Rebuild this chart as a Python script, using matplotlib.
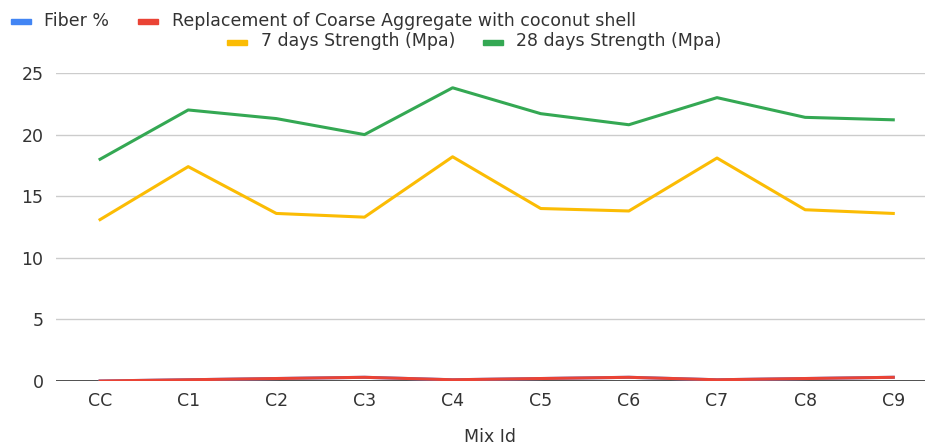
import matplotlib.pyplot as plt
from matplotlib.patches import Rectangle

plt.rcParams['font.family'] = ['DejaVu Sans']

mix_ids = ['CC', 'C1', 'C2', 'C3', 'C4', 'C5', 'C6', 'C7', 'C8', 'C9']
fiber_pct = [0, 0.1, 0.2, 0.3, 0.1, 0.2, 0.3, 0.1, 0.2, 0.3]
coconut_shell = [0, 0.1, 0.2, 0.3, 0.1, 0.2, 0.3, 0.1, 0.2, 0.3]
strength_7 = [13.1, 17.4, 13.6, 13.3, 18.2, 14.0, 13.8, 18.1, 13.9, 13.6]
strength_28 = [18.0, 22.0, 21.3, 20.0, 23.8, 21.7, 20.8, 23.0, 21.4, 21.2]

series = [
    ('Fiber %', fiber_pct, '#4285F4'),
    ('Replacement of Coarse Aggregate with coconut shell', coconut_shell, '#EA4335'),
    ('7 days Strength (Mpa)', strength_7, '#FBBC04'),
    ('28 days Strength (Mpa)', strength_28, '#34A853'),
]
txt = '#333333'

W, H = 925, 445
fig = plt.figure(figsize=(W / 100, H / 100), dpi=100)
ax = fig.add_axes([56 / W, 1 - 381 / H, 1 - 56 / W, (381 - 73) / H])

x = range(len(mix_ids))
for name, vals, col in series:
    ax.plot(x, vals, color=col, lw=2.2, zorder=3)

ax.set_xlim(-0.5, 9.36)
ax.set_ylim(0, 25)
ax.set_yticks([0, 5, 10, 15, 20, 25])
ax.set_xticks(list(x))
ax.set_xticklabels(mix_ids)
ax.grid(axis='y', color='#cccccc', lw=1)
ax.axhline(0, color='#333333', lw=1.2, zorder=2)
for s in ax.spines.values():
    s.set_visible(False)
ax.tick_params(length=0, labelsize=12.5, colors=txt)
ax.tick_params(axis='y', pad=9)
ax.tick_params(axis='x', pad=8)
ax.set_xlabel('Mix Id', fontsize=12.5, color=txt, labelpad=13)

# legend drawn by hand: two centred rows (swatch x, text x)
legend_rows = [
    [(0, 11, 44), (1, 138, 172)],
    [(2, 227, 261), (3, 483, 516)],
]
row_y = [21, 42]
for row, yy in zip(legend_rows, row_y):
    for idx, sx, tx in row:
        name, _, col = series[idx]
        fig.patches.append(Rectangle((sx / W, 1 - (yy + 2.5) / H), 20 / W, 4 / H,
                                     transform=fig.transFigure, color=col))
        fig.text(tx / W, 1 - (yy - 0.5) / H, name, fontsize=12.5, color=txt,
                 va='center', ha='left')

fig.savefig('out.png', dpi=100, facecolor='white')
